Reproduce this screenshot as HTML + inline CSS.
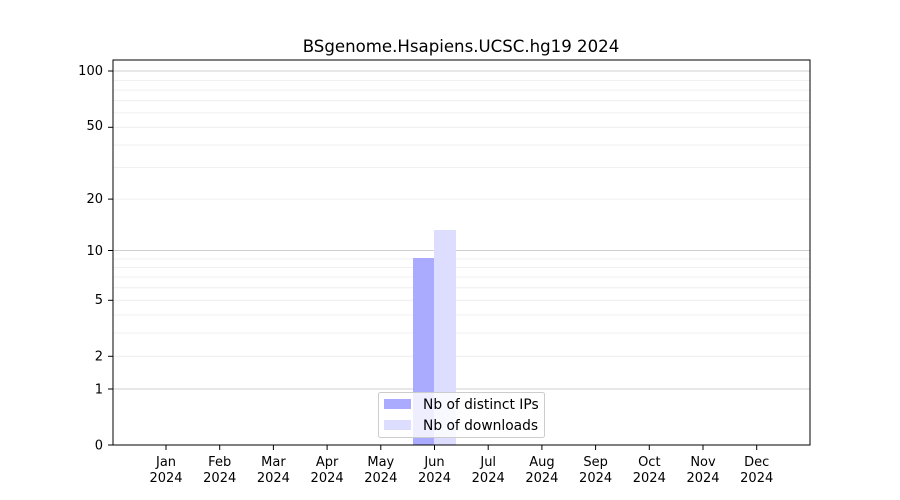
<!DOCTYPE html>
<html><head><meta charset="utf-8"><style>body{margin:0;background:#fff}svg{display:block}</style></head><body>
<svg width="900" height="500" xmlns="http://www.w3.org/2000/svg" font-family="'DejaVu Sans', 'Liberation Sans', sans-serif" font-size="13">
<rect width="900" height="500" fill="#fff"/>
<g stroke="#ebebeb" stroke-width="0.8">
<line x1="113" x2="810" y1="356.3" y2="356.3"/><line x1="113" x2="810" y1="333" y2="333"/>
<line x1="113" x2="810" y1="315" y2="315"/><line x1="113" x2="810" y1="300.3" y2="300.3"/>
<line x1="113" x2="810" y1="287.8" y2="287.8"/><line x1="113" x2="810" y1="277" y2="277"/>
<line x1="113" x2="810" y1="267.5" y2="267.5"/><line x1="113" x2="810" y1="259" y2="259"/>
<line x1="113" x2="810" y1="199.1" y2="199.1"/><line x1="113" x2="810" y1="167.6" y2="167.6"/>
<line x1="113" x2="810" y1="145" y2="145"/><line x1="113" x2="810" y1="127.3" y2="127.3"/>
<line x1="113" x2="810" y1="112.9" y2="112.9"/><line x1="113" x2="810" y1="100.7" y2="100.7"/>
<line x1="113" x2="810" y1="90.1" y2="90.1"/><line x1="113" x2="810" y1="80.6" y2="80.6"/>
</g>
<g stroke="#cfcfcf" stroke-width="1">
<line x1="113" x2="810" y1="389" y2="389"/><line x1="113" x2="810" y1="250.5" y2="250.5"/><line x1="113" x2="810" y1="71" y2="71"/>
</g>
<rect x="413" y="258" width="21" height="187" fill="#aaaaff"/>
<rect x="434" y="230" width="22" height="215" fill="#ddddff"/>
<rect x="113" y="60" width="697" height="385" fill="none" stroke="#000" stroke-width="1"/>
<text x="461" y="52" text-anchor="middle" font-size="16.6">BSgenome.Hsapiens.UCSC.hg19 2024</text>
<g text-anchor="end" font-size="13">
<text x="103" y="449.5">0</text><text x="103" y="393.5">1</text><text x="103" y="360.5">2</text>
<text x="103" y="304">5</text><text x="103" y="255">10</text><text x="103" y="203">20</text>
<text x="103" y="130">50</text><text x="103" y="75">100</text>
</g>
<g stroke="#000"><line x1="108" x2="113" y1="445" y2="445"/><line x1="108" x2="113" y1="389" y2="389"/><line x1="108" x2="113" y1="356.3" y2="356.3"/><line x1="108" x2="113" y1="300.3" y2="300.3"/><line x1="108" x2="113" y1="250.5" y2="250.5"/><line x1="108" x2="113" y1="199.1" y2="199.1"/><line x1="108" x2="113" y1="127.3" y2="127.3"/><line x1="108" x2="113" y1="71" y2="71"/></g>
<g text-anchor="middle" font-size="13">
<g transform="translate(166,0)"><line y1="445" y2="450" stroke="#000"/><text y="466">Jan</text><text y="482">2024</text></g>
<g transform="translate(219.7,0)"><line y1="445" y2="450" stroke="#000"/><text y="466">Feb</text><text y="482">2024</text></g>
<g transform="translate(273.4,0)"><line y1="445" y2="450" stroke="#000"/><text y="466">Mar</text><text y="482">2024</text></g>
<g transform="translate(327.1,0)"><line y1="445" y2="450" stroke="#000"/><text y="466">Apr</text><text y="482">2024</text></g>
<g transform="translate(380.8,0)"><line y1="445" y2="450" stroke="#000"/><text y="466">May</text><text y="482">2024</text></g>
<g transform="translate(434.5,0)"><line y1="445" y2="450" stroke="#000"/><text y="466">Jun</text><text y="482">2024</text></g>
<g transform="translate(488.2,0)"><line y1="445" y2="450" stroke="#000"/><text y="466">Jul</text><text y="482">2024</text></g>
<g transform="translate(541.9,0)"><line y1="445" y2="450" stroke="#000"/><text y="466">Aug</text><text y="482">2024</text></g>
<g transform="translate(595.6,0)"><line y1="445" y2="450" stroke="#000"/><text y="466">Sep</text><text y="482">2024</text></g>
<g transform="translate(649.3,0)"><line y1="445" y2="450" stroke="#000"/><text y="466">Oct</text><text y="482">2024</text></g>
<g transform="translate(703,0)"><line y1="445" y2="450" stroke="#000"/><text y="466">Nov</text><text y="482">2024</text></g>
<g transform="translate(756.7,0)"><line y1="445" y2="450" stroke="#000"/><text y="466">Dec</text><text y="482">2024</text></g>
</g>
<rect x="378.5" y="392.5" width="166" height="45" rx="2" fill="#fff" fill-opacity="0.8" stroke="#ccc"/>
<rect x="384" y="399" width="27" height="10" fill="#aaaaff"/>
<rect x="384" y="420" width="27" height="10" fill="#ddddff"/>
<text x="423" y="409" font-size="13.8">Nb of distinct IPs</text>
<text x="423" y="430" font-size="13.8">Nb of downloads</text>
</svg>
</body></html>
